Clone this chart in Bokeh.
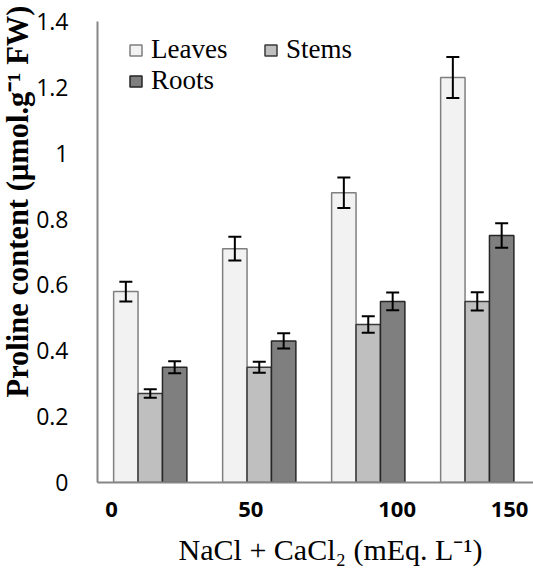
from bokeh.plotting import figure
from bokeh.models import (ColumnDataSource, Range1d, FixedTicker, Whisker, TeeHead,
                          Legend, LegendItem, Title, LinearAxis)
from bokeh.embed import file_html
from bokeh.resources import INLINE

# ---- data ----
categories = ["0", "50", "100", "150"]
leaves = [0.58, 0.71, 0.88, 1.23]
leaves_err = [0.030, 0.036, 0.046, 0.062]
stems = [0.27, 0.35, 0.48, 0.55]
stems_err = [0.013, 0.017, 0.025, 0.028]
roots = [0.35, 0.43, 0.55, 0.75]
roots_err = [0.018, 0.023, 0.027, 0.037]
y_ticks = [0, 0.2, 0.4, 0.6, 0.8, 1.0, 1.2, 1.4]

# ---- layout constants ----
BAR_W = 0.224
OFFSETS = [0.26, 0.484, 0.708]
LABEL_POS = [0.128, 1.406, 2.749, 3.78]   # where the category labels sit (as in the original)
PAD = "\u00a0" * 4                         # nudges the centred x title to the right, as in the original

p = figure(width=533, height=568, output_backend="svg", toolbar_location=None,
           x_range=Range1d(0, 4), y_range=Range1d(0, 1.4),
           min_border_left=97, min_border_right=0, min_border_top=21, min_border_bottom=86)
p.outline_line_color = None
p.xgrid.grid_line_color = None
p.ygrid.grid_line_color = None
p.background_fill_color = "white"
p.border_fill_color = "white"

series = [("Leaves", leaves, leaves_err, "#F2F2F2", "#7F7F7F"),
          ("Stems", stems, stems_err, "#BFBFBF", "#3A3A3A"),
          ("Roots", roots, roots_err, "#7F7F7F", "#262626")]

items = []
for k, (name, vals, errs, fill, line) in enumerate(series):
    xs = [i + OFFSETS[k] for i in range(len(categories))]
    src = ColumnDataSource(dict(x=xs, top=vals,
                                upper=[v + e for v, e in zip(vals, errs)],
                                lower=[v - e for v, e in zip(vals, errs)]))
    r = p.vbar(x="x", top="top", width=BAR_W, bottom=0, source=src,
               fill_color=fill, line_color=line, line_width=1.5)
    w = Whisker(base="x", upper="upper", lower="lower", source=src, level="overlay",
                line_color="black", line_width=2,
                upper_head=TeeHead(size=13, line_width=2, line_color="black"),
                lower_head=TeeHead(size=13, line_width=2, line_color="black"))
    p.add_layout(w)
    items.append(LegendItem(label=name, renderers=[r]))

legend = Legend(items=items, orientation="horizontal", ncols=2,
                location=(31, 386), padding=0, margin=0, spacing=0,
                glyph_width=15, glyph_height=14, label_standoff=8, label_height=31,
                label_width=112,
                label_text_font="Liberation Serif", label_text_font_size="27px",
                label_text_color="black",
                background_fill_alpha=0, border_line_color=None)
p.add_layout(legend)

# y axis
p.yaxis.ticker = FixedTicker(ticks=y_ticks)
p.yaxis.major_label_overrides = {t: ("0" if t == 0 else ("1" if t == 1.0 else f"{t:g}")) for t in y_ticks}
p.yaxis.major_label_text_font = "Open Sans"
p.yaxis.major_label_text_font_size = "23px"
p.yaxis.major_label_text_color = "black"
p.yaxis.major_label_standoff = 23
p.yaxis.major_tick_line_color = None
p.yaxis.minor_tick_line_color = None
p.yaxis.axis_line_color = "#868686"
p.yaxis.axis_line_width = 2

# x axis
p.xaxis.ticker = FixedTicker(ticks=LABEL_POS)
p.xaxis.major_label_overrides = {pos: lab for pos, lab in zip(LABEL_POS, categories)}
p.xaxis.major_label_text_font = "Open Sans"
p.xaxis.major_label_text_font_style = "bold"
p.xaxis.major_label_text_font_size = "22px"
p.xaxis.major_label_text_color = "black"
p.xaxis.major_label_standoff = 13
p.xaxis.major_tick_line_color = None
p.xaxis.minor_tick_line_color = None
p.xaxis.axis_line_color = "#868686"
p.xaxis.axis_line_width = 2

# x title: carried by a second, invisible axis below the first
xt_axis = LinearAxis(ticker=FixedTicker(ticks=[]),
                     axis_label=PAD + "NaCl + CaCl\u2082 (mEq. L\u207b\u00b9)",
                     axis_label_standoff=13,
                     axis_label_text_font="Liberation Serif",
                     axis_label_text_font_style="normal",
                     axis_label_text_font_size="30px",
                     axis_label_text_color="black",
                     axis_line_color=None, major_tick_line_color=None,
                     minor_tick_line_color=None, major_label_standoff=0,
                     major_tick_out=0, major_tick_in=0)
p.add_layout(xt_axis, "below")

# y title
ytitle = Title(text="Proline content (\u00b5mol.g\u207b\u00b9 FW)", align="left", offset=85,
               text_font="Liberation Serif", text_font_style="bold", text_font_size="30.5px",
               text_color="black", standoff=-3)
p.add_layout(ytitle, "left")

open("out.html", "w").write(file_html(p, INLINE))
